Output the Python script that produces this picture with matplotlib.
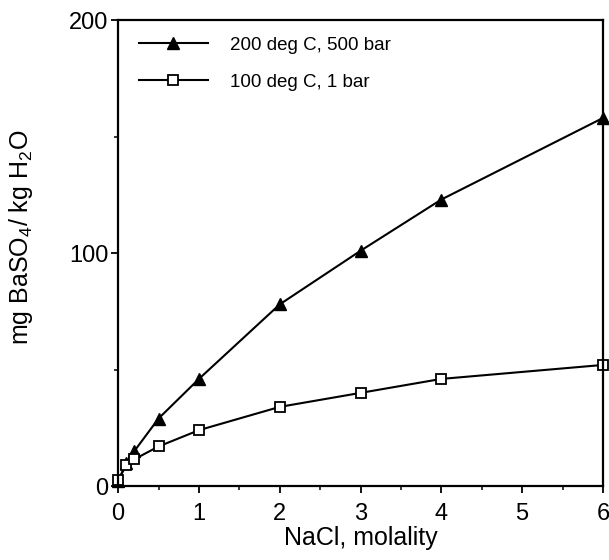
import numpy as np
import matplotlib.pyplot as plt
from matplotlib.ticker import MultipleLocator

plt.rc('font', family=['Liberation Sans', 'DejaVu Sans'])
plt.rc('mathtext', fontset='custom', rm='Liberation Sans')

# NaCl molality
nacl = [0.0, 0.1, 0.2, 0.5, 1.0, 2.0, 3.0, 4.0, 6.0]
# BaSO4 solubility, mg / kg H2O
hot_500bar = [2, 10, 15, 29, 46, 78, 101, 123, 158]
warm_1bar = [2.5, 9, 11.5, 17, 24, 34, 40, 46, 52]

fig = plt.figure(figsize=(6.09, 5.60), dpi=100)
ax = fig.add_axes([0.194, 0.132, 0.796, 0.832])

ax.plot(nacl, hot_500bar, color='black', lw=1.5, marker='^', ms=9,
        mfc='black', mec='black', label='200 deg C, 500 bar', clip_on=False)
ax.plot(nacl, warm_1bar, color='black', lw=1.5, marker='s', ms=7,
        mfc='white', mec='black', mew=1.3, label='100 deg C, 1 bar', clip_on=False)

ax.set_xlim(0, 6)
ax.set_ylim(0, 200)
ax.set_xticks(range(7))
ax.set_yticks([0, 100, 200])
ax.xaxis.set_minor_locator(MultipleLocator(0.5))
ax.yaxis.set_minor_locator(MultipleLocator(50))
ax.tick_params(which='major', length=5, width=1.3, labelsize=17)
ax.tick_params(axis='x', which='major', pad=7)
ax.tick_params(axis='y', which='major', pad=2)
ax.tick_params(which='minor', length=3, width=1.1)
for s in ax.spines.values():
    s.set_linewidth(1.6)

ax.set_xlabel('NaCl, molality', fontsize=18, labelpad=1)
ax.set_ylabel(r'mg BaSO$_\mathregular{4}$/ kg H$_\mathregular{2}$O', fontsize=18)
ax.yaxis.set_label_coords(-0.172, 0.534)

ax.legend(loc='upper left', bbox_to_anchor=(0.0, 1.009), frameon=False,
          fontsize=13.5, handlelength=3.7, handletextpad=1.15,
          labelspacing=1.05, borderaxespad=0.7)

fig.savefig('out.png', dpi=100)
